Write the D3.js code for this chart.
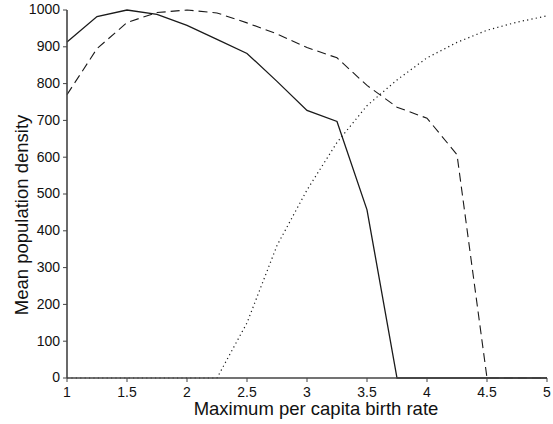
<!DOCTYPE html>
<html>
<head>
<meta charset="utf-8">
<script src="https://cdn.jsdelivr.net/npm/d3@7"></script>
<style>
  body { margin: 0; background: #fff; }
  svg text { font-family: "Liberation Sans", Arial, sans-serif; fill: #111; }
</style>
</head>
<body>
<div id="chart"></div>
<script>
// birth rate values along x
const birthRates = [1, 1.25, 1.5, 1.75, 2, 2.25, 2.5, 2.75, 3, 3.25, 3.5, 3.75, 4, 4.25, 4.5, 4.75, 5];

// mean population density, one array per curve
const solidSeries  = [913, 982, 1000, 988, 958, 920, 882, 806, 727, 697, 457, 0, 0, 0, 0, 0, 0];
const dashedSeries = [770, 895, 966, 993, 1000, 992, 965, 935, 898, 870, 795, 736, 706, 607, 0, 0, 0];
const dottedSeries = [0, 0, 0, 0, 0, 0, 150, 360, 511, 640, 740, 810, 870, 912, 945, 967, 984];

const xTicks = [1, 1.5, 2, 2.5, 3, 3.5, 4, 4.5, 5];
const yTicks = [0, 100, 200, 300, 400, 500, 600, 700, 800, 900, 1000];

const width = 553, height = 424;
const margin = { top: 10, right: 6, bottom: 46, left: 67 };

const svg = d3.select("#chart").append("svg")
  .attr("width", width)
  .attr("height", height);

const x = d3.scaleLinear().domain([1, 5]).range([margin.left, width - margin.right]);
const y = d3.scaleLinear().domain([0, 1000]).range([height - margin.bottom, margin.top]);

// curves
const line = d3.line().x((d, i) => x(birthRates[i])).y(d => y(d));

const curves = [
  { values: dottedSeries, dash: "1.2,3.2", width: 1.2 },
  { values: dashedSeries, dash: "9,5", width: 1.1 },
  { values: solidSeries, dash: null, width: 1.3 },
];

curves.forEach(c => {
  svg.append("path")
    .datum(c.values)
    .attr("fill", "none")
    .attr("stroke", "#1a1a1a")
    .attr("stroke-width", c.width)
    .attr("stroke-dasharray", c.dash)
    .attr("d", line);
});

// axes drawn on top so the zero stretches sit under the axis line
const xAxis = svg.append("g")
  .attr("transform", `translate(0,${y(0)})`)
  .call(d3.axisBottom(x).tickValues(xTicks).tickFormat(d3.format("")).tickSize(4).tickSizeOuter(0).offset(0));
const yAxis = svg.append("g")
  .attr("transform", `translate(${x(1)},0)`)
  .call(d3.axisLeft(y).tickValues(yTicks).tickFormat(d3.format("d")).tickSize(4).tickSizeOuter(0).offset(0));

[xAxis, yAxis].forEach(a => {
  a.select(".domain").attr("stroke", "#444").attr("stroke-width", 1.6);
  a.selectAll(".tick line").attr("stroke", "#444");
  a.selectAll(".tick text").style("font-size", "14px").attr("fill", "#111");
});
xAxis.selectAll(".tick text").attr("y", 8).attr("dy", "0.75em");
yAxis.selectAll(".tick text").attr("x", -7);

// axis titles
svg.append("text")
  .attr("x", 316)
  .attr("y", 415)
  .attr("text-anchor", "middle")
  .style("font-size", "18.5px")
  .text("Maximum per capita birth rate");

svg.append("text")
  .attr("transform", `translate(28,215) rotate(-90)`)
  .attr("text-anchor", "middle")
  .style("font-size", "18.5px")
  .text("Mean population density");
</script>
</body>
</html>
